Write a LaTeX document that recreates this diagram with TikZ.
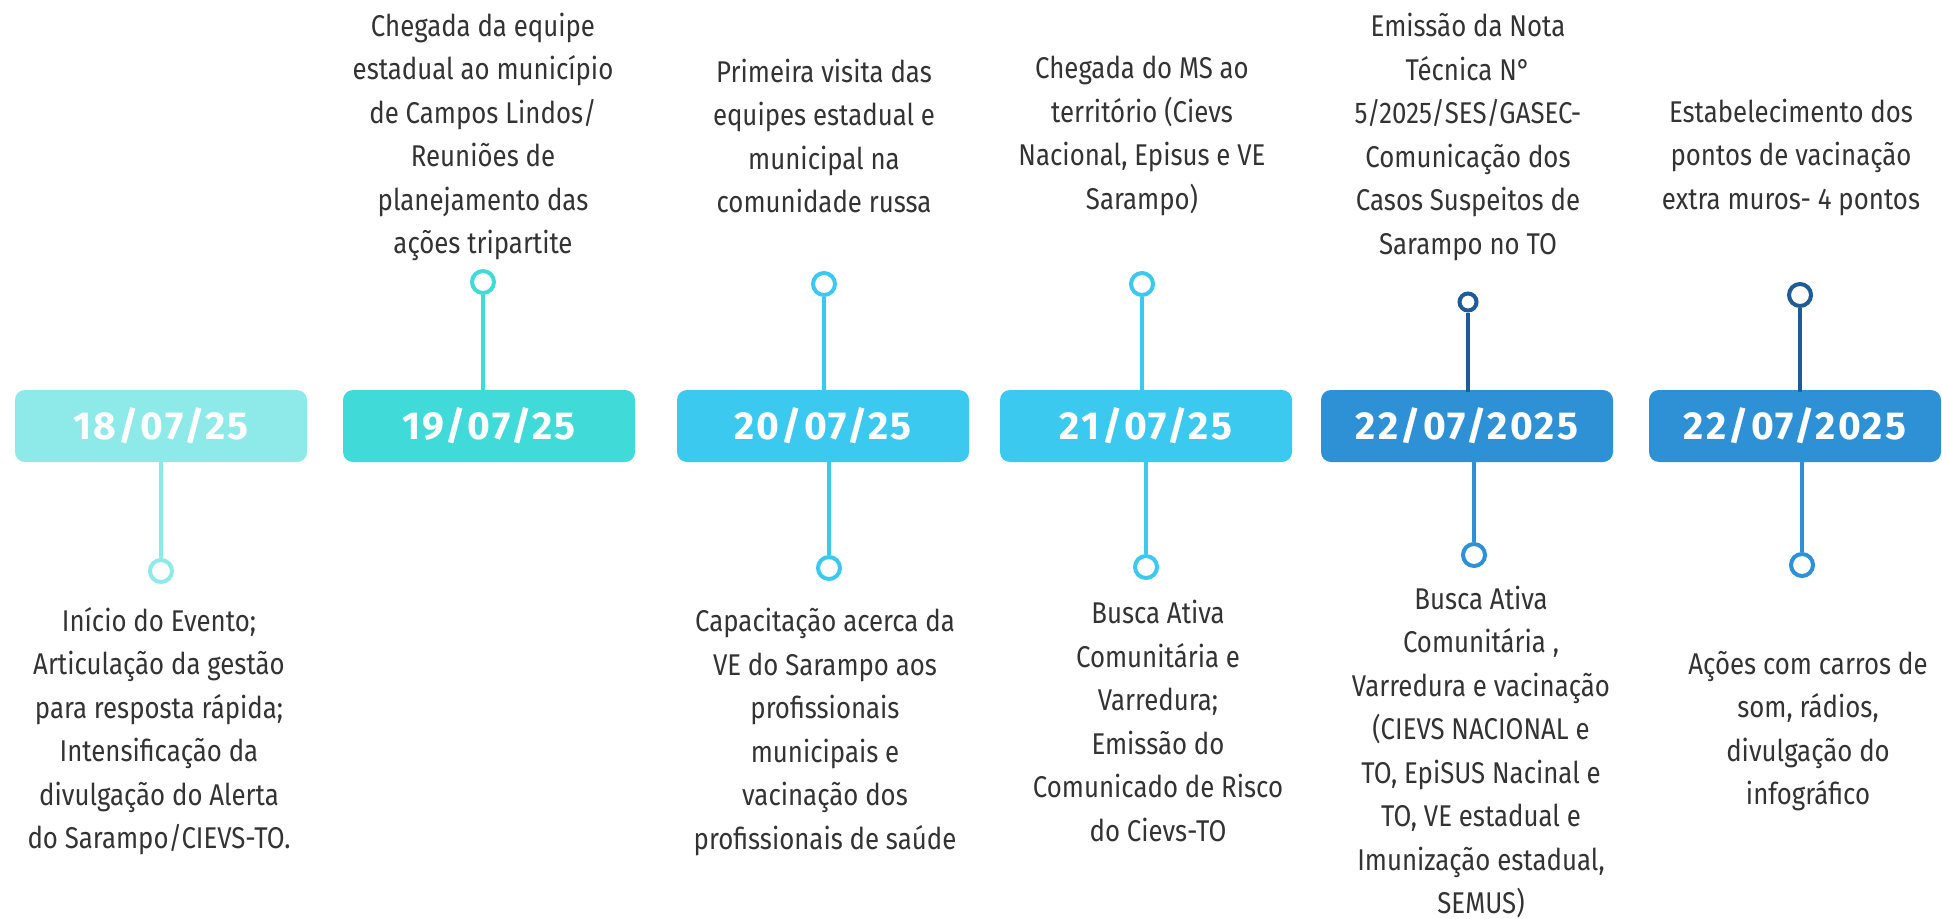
\documentclass[tikz,border=0pt]{standalone}
\usepackage{fontspec}
\setmainfont{Fira Sans}[FakeStretch=0.86]
\newfontfamily\datefont{Fira Sans}[LetterSpace=6]
\usetikzlibrary{backgrounds}
\definecolor{cA}{HTML}{8DEAE9}
\definecolor{cB}{HTML}{40DBD8}
\definecolor{cC}{HTML}{3BC9F0}
\definecolor{cD}{HTML}{2E91D5}
\definecolor{cDark}{HTML}{1F5C96}
\definecolor{txtgray}{HTML}{333333}
\definecolor{linegray}{HTML}{EEEEEE}
\tikzset{
  datebox/.style={rounded corners=10pt, minimum width=292pt, minimum height=72pt, inner sep=0pt, text=white, font={\datefont\bfseries\fontsize{39}{41}\selectfont}},
  dot/.style={circle, draw, line width=4pt, minimum size=22pt, inner sep=0pt, fill=white},
  smalldot/.style={dot, minimum size=17pt},
  stem/.style={line width=4pt},
  txt/.style={align=center, text=txtgray, inner sep=0pt, font={\fontsize{30}{43.5}\selectfont}}
}
\begin{document}
\begin{tikzpicture}[x=1pt,y=-1pt]
\useasboundingbox (0,0) rectangle (1942,918);
\fill[white] (0,0) rectangle (1942,918);
% date boxes
\node[datebox, fill=cA] (b1) at (161,426) {18/07/25};
\node[datebox, fill=cB] (b2) at (489,426) {19/07/25};
\node[datebox, fill=cC] (b3) at (823,426) {20/07/25};
\node[datebox, fill=cC] (b4) at (1146,426) {21/07/25};
\node[datebox, fill=cD] (b5) at (1467,426) {22/07/2025};
\node[datebox, fill=cD] (b6) at (1795,426) {22/07/2025};
\begin{scope}[on background layer]
\draw[linegray, line width=10pt] (b1.center) -- (b6.center);
\end{scope}
% dots
\node[dot, draw=cA] (d1) at (161,571) {};
\node[dot, draw=cB] (d2) at (483,282) {};
\node[dot, draw=cC] (d3u) at (824,284) {};
\node[dot, draw=cC] (d3d) at (829,568) {};
\node[dot, draw=cC] (d4u) at (1142,284) {};
\node[dot, draw=cC] (d4d) at (1146,567) {};
\node[smalldot, draw=cDark] (d5u) at (1468,302) {};
\node[dot, draw=cD] (d5d) at (1474,555) {};
\node[dot, draw=cDark] (d6u) at (1800,295) {};
\node[dot, draw=cD] (d6d) at (1802,565) {};
% stems
\draw[stem, cA] (d1.north) -- ([yshift=6pt]d1.north |- b1.south);
\draw[stem, cB] (d2.south) -- ([yshift=-2pt]d2.south |- b2.north);
\draw[stem, cC] (d3u.south) -- ([yshift=-2pt]d3u.south |- b3.north);
\draw[stem, cC] (d3d.north) -- ([yshift=4pt]d3d.north |- b3.south);
\draw[stem, cC] (d4u.south) -- ([yshift=-2pt]d4u.south |- b4.north);
\draw[stem, cC] (d4d.north) -- ([yshift=4pt]d4d.north |- b4.south);
\draw[stem, cDark] (d5u.south) -- ([yshift=-2pt]d5u.south |- b5.north);
\draw[stem, cD] (d5d.north) -- ([yshift=4pt]d5d.north |- b5.south);
\draw[stem, cDark] (d6u.south) -- ([yshift=-2pt]d6u.south |- b6.north);
\draw[stem, cD] (d6d.north) -- ([yshift=4pt]d6d.north |- b6.south);
% top texts
\node[txt] (t2) at (483,137) {Chegada da equipe\\estadual ao município\\de Campos Lindos/\\Reuniões de\\planejamento das\\ações tripartite};
\node[txt] (t3) at (824,136) {Primeira visita das\\equipes estadual e\\municipal na\\comunidade russa};
\node[txt] (t4) at (1142,136) {Chegada do MS ao\\território (Cievs\\Nacional, Episus e VE\\Sarampo)};
\node[txt] (t5) at (1468,137) {Emissão da Nota\\Técnica N°\\5/2025/SES/GASEC-\\Comunicação dos\\Casos Suspeitos de\\Sarampo no TO};
\node[txt] (t6) at (1791,157) {Estabelecimento dos\\pontos de vacinação\\extra muros- 4 pontos};
% bottom texts
\node[txt] (s1) at (159,731) {Início do Evento;\\Articulação da gestão\\para resposta rápida;\\Intensificação da\\divulgação do Alerta\\do Sarampo/CIEVS-TO.};
\node[txt] (s3) at (825,732) {Capacitação acerca da\\VE do Sarampo aos\\profissionais\\municipais e\\vacinação dos\\profissionais de saúde};
\node[txt] (s4) at (1158,721) {Busca Ativa\\Comunitária e\\Varredura;\\Emissão do\\Comunicado de Risco\\do Cievs-TO};
\node[txt] (s5) at (1481,752) {Busca Ativa\\Comunitária ,\\Varredura e vacinação\\(CIEVS NACIONAL e\\TO, EpiSUS Nacinal e\\TO, VE estadual e\\Imunização estadual,\\SEMUS)};
\node[txt] (s6) at (1808,731) {Ações com carros de\\som, rádios,\\divulgação do\\infográfico};
\end{tikzpicture}
\end{document}
